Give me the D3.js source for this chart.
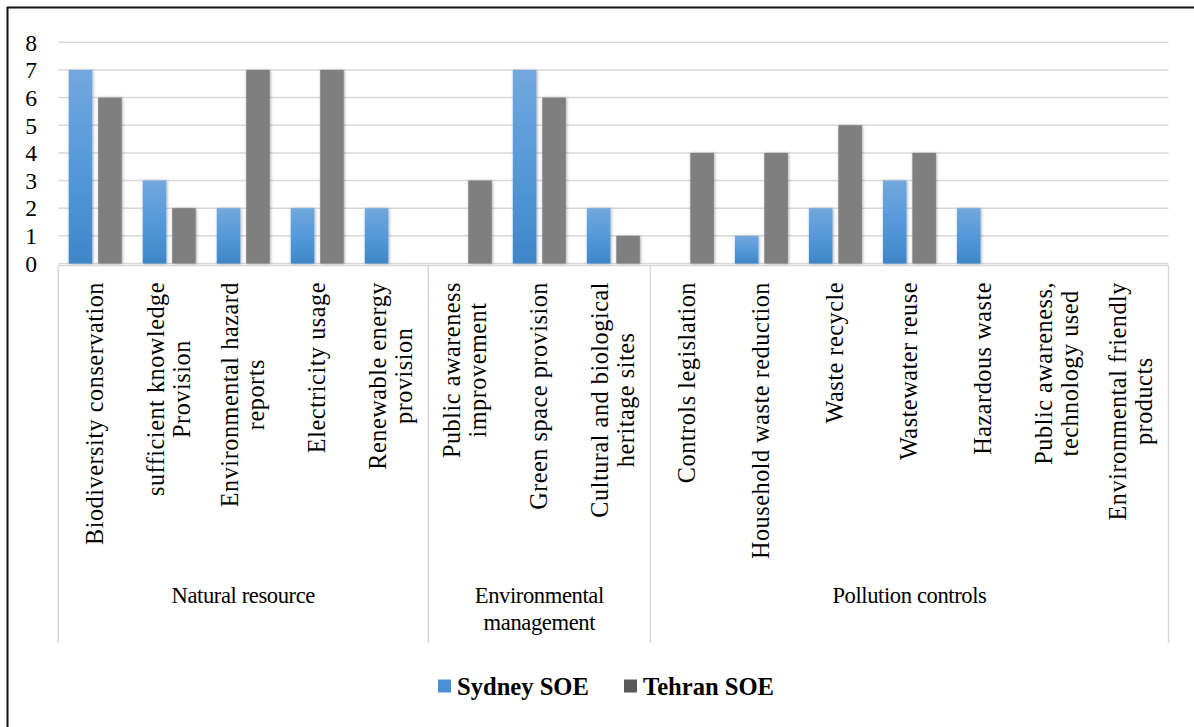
<!DOCTYPE html>
<html>
<head>
<meta charset="utf-8">
<script src="https://cdn.jsdelivr.net/npm/d3@7"></script>
<style>
  html, body { margin: 0; padding: 0; background: #fff; }
  svg { display: block; }
  text { font-family: "Liberation Serif", "Times New Roman", serif; fill: #000; }
</style>
</head>
<body>
<svg id="chart" width="1194" height="727"></svg>
<script>
// ---- data ----
const categories = [
  "Biodiversity conservation",
  "sufficient knowledge\nProvision",
  "Environmental hazard\nreports",
  "Electricity usage",
  "Renewable energy\nprovision",
  "Public awareness\nimprovement",
  "Green space provision",
  "Cultural and biological\nheritage sites",
  "Controls legislation",
  "Household waste reduction",
  "Waste recycle",
  "Wastewater reuse",
  "Hazardous waste",
  "Public awareness,\ntechnology used",
  "Environmental friendly\nproducts"
];
const groupNames = ["Natural resource", "Environmental\nmanagement", "Pollution controls"];
const groupSizes = [5, 3, 7];
const seriesNames = ["Sydney SOE", "Tehran SOE"];
const sydney = [7, 3, 2, 2, 2, 0, 7, 2, 0, 1, 2, 3, 2, 0, 0];
const tehran = [6, 2, 7, 7, 0, 3, 6, 1, 4, 4, 5, 4, 0, 0, 0];
const yTicks = [0, 1, 2, 3, 4, 5, 6, 7, 8];

// ---- layout ----
const svg = d3.select("#chart");
const W = 1194, H = 727;
const plotL = 58.2, plotR = 1168.5, plotT = 42.3, plotB = 263.5;
const boxBottom = 643;
const gridColor = "#d9d9d9";

const x = d3.scaleBand().domain(d3.range(categories.length)).range([plotL, plotR]).padding(0);
const xInner = d3.scaleBand().domain(seriesNames).range([-26.5, 26.5]).paddingInner(0.2);
const y = d3.scaleLinear().domain([0, 8]).range([plotB, plotT]);

// defs
const defs = svg.append("defs");
const grad = defs.append("linearGradient").attr("id", "blueGrad")
  .attr("x1", 0).attr("y1", 0).attr("x2", 0).attr("y2", 1);
grad.append("stop").attr("offset", "0%").attr("stop-color", "#72a8de");
grad.append("stop").attr("offset", "50%").attr("stop-color", "#5599da");
grad.append("stop").attr("offset", "100%").attr("stop-color", "#3f86c8");
const filt = defs.append("filter").attr("id", "shadow")
  .attr("x", "-40%").attr("y", "-10%").attr("width", "180%").attr("height", "120%");
filt.append("feDropShadow").attr("dx", 0.8).attr("dy", 0.5)
  .attr("stdDeviation", 1.8).attr("flood-color", "#000").attr("flood-opacity", 0.35);

// outer frame (top & left visible)
svg.append("line").attr("x1", 7).attr("x2", W).attr("y1", 7.5).attr("y2", 7.5)
  .attr("stroke", "#111").attr("stroke-width", 2);
svg.append("line").attr("x1", 7.5).attr("x2", 7.5).attr("y1", 7).attr("y2", H)
  .attr("stroke", "#111").attr("stroke-width", 2);

// gridlines
svg.append("g").selectAll("line").data(yTicks).join("line")
  .attr("x1", plotL).attr("x2", plotR)
  .attr("y1", d => y(d)).attr("y2", d => y(d))
  .attr("stroke", gridColor).attr("stroke-width", 1.5);

// y tick labels
svg.append("g").selectAll("text").data(yTicks).join("text")
  .attr("x", 37).attr("y", d => y(d)).attr("dy", "0.35em")
  .attr("text-anchor", "end").style("font-size", "23.6px")
  .text(d => d);

// bars
const seriesData = [sydney, tehran];
const fills = ["url(#blueGrad)", "#7f7f7f"];
seriesNames.forEach((s, si) => {
  svg.append("g").attr("filter", "url(#shadow)").selectAll("rect")
    .data(seriesData[si].map((v, i) => ({ v, i })).filter(d => d.v > 0))
    .join("rect")
    .attr("x", d => x(d.i) + x.bandwidth() / 2 + xInner(s))
    .attr("width", xInner.bandwidth())
    .attr("y", d => y(d.v))
    .attr("height", d => y(0) - y(d.v))
    .attr("fill", fills[si]);
});

// category axis box
const axisY = y(0) + 2;
svg.append("line").attr("x1", plotL).attr("x2", plotR).attr("y1", axisY).attr("y2", axisY)
  .attr("stroke", gridColor).attr("stroke-width", 1.5);
let acc = 0;
const bounds = [0];
groupSizes.forEach(n => { acc += n; bounds.push(acc); });
const boundX = i => (i < categories.length ? x(i) : plotR);
svg.append("g").selectAll("line").data(bounds).join("line")
  .attr("x1", d => boundX(d)).attr("x2", d => boundX(d))
  .attr("y1", axisY).attr("y2", boxBottom)
  .attr("stroke", gridColor).attr("stroke-width", 1.5);

// category labels (rotated, top-aligned, lines centred)
const labelTop = 282;
const lineGap = 26;
const catG = svg.append("g");
categories.forEach((c, i) => {
  const lines = c.split("\n");
  const cx = x(i) + x.bandwidth() / 2;
  const g = catG.append("g");
  const texts = lines.map((ln) => g.append("text")
    .style("font-size", "24.2px").style("letter-spacing", "0.55px")
    .attr("text-anchor", "middle").text(ln));
  const maxLen = d3.max(texts, t => t.node().getComputedTextLength());
  const cy = labelTop + maxLen / 2;
  texts.forEach((t, li) => {
    const off = (li - (lines.length - 1) / 2) * lineGap;
    t.attr("transform", `translate(${cx + off},${cy}) rotate(-90)`)
      .attr("dy", "0.33em");
  });
});

// group labels
groupNames.forEach((gname, gi) => {
  const cx = (boundX(bounds[gi]) + boundX(bounds[gi + 1])) / 2;
  const lines = gname.split("\n");
  const t = svg.append("text").attr("text-anchor", "middle")
    .style("font-size", "22.6px").style("letter-spacing", "-0.4px");
  lines.forEach((ln, li) => {
    t.append("tspan").attr("x", cx).attr("y", 603 + li * 27).text(ln);
  });
});

// legend
const legend = svg.append("g");
const legX = [438, 624];
const legColors = ["#4a90d8", "#595959"];
seriesNames.forEach((s, si) => {
  legend.append("rect").attr("x", legX[si]).attr("y", 679.5)
    .attr("width", 13).attr("height", 13).attr("fill", legColors[si]);
  legend.append("text").attr("x", legX[si] + 19).attr("y", 695)
    .style("font-size", "24.6px").style("font-weight", "bold").text(s);
});
</script>
</body>
</html>
